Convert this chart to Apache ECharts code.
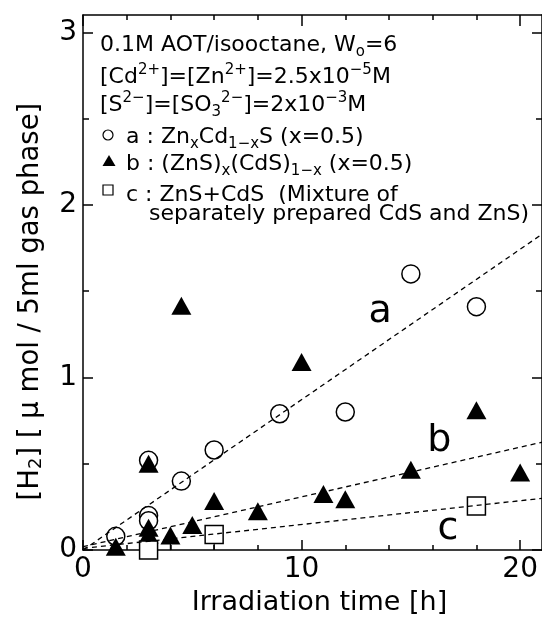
<!DOCTYPE html>
<html>
<head>
<meta charset="utf-8">
<script src="https://cdn.jsdelivr.net/npm/echarts@6/dist/echarts.min.js"></script>
<style>
  html, body { margin: 0; padding: 0; background: #fff; }
  #chart { width: 542px; height: 621px; }
</style>
</head>
<body>
<div id="chart"></div>
<script>
// a : ZnxCd1-xS (open circles)
const seriesA = [[1.5, 0.08], [3, 0.2], [3, 0.17], [3, 0.52], [4.5, 0.4], [6, 0.58], [9, 0.79], [12, 0.8], [15, 1.6], [18, 1.41]];
// b : (ZnS)x(CdS)1-x (filled triangles)
const seriesB = [[1.5, 0.02], [3, 0.13], [3, 0.09], [3, 0.5], [4, 0.085], [4.5, 1.415], [5, 0.145], [6, 0.285], [8, 0.225], [10, 1.09], [11, 0.325], [12, 0.295], [15, 0.465], [18, 0.81], [20, 0.45]];
// c : ZnS+CdS mixture (open squares)
const seriesC = [[3, 0], [6, 0.09], [18, 0.255]];
// dashed fit lines
const fitA = [[0, 0], [21, 1.83]];
const fitB = [[0, 0.02], [21, 0.625]];
const fitC = [[0, 0.01], [21, 0.3]];
// little vertical stems under two points
const stems = [[4, 0.085], [6, 0.06]];
// curve letters
const curveLabels = [['a', 13.6, 1.38], ['b', 16.3, 0.63], ['c', 16.7, 0.12]];

const xMajor = [0, 10, 20];
const xMinor = [2, 4, 6, 8, 12, 14, 16, 18];
const yMajor = [0, 1, 2, 3];
const yMinor = [0.5, 1.5, 2.5];

const FONT = 'DejaVu Sans';
const black = '#000';

function frameAxis(pos, min, max, ticks, len, showLine, labels) {
  return {
    type: 'value', position: pos, min: min, max: max,
    axisLine: { show: showLine, onZero: false, lineStyle: { color: black, width: 1.5 } },
    axisTick: { show: true, inside: true, length: len, customValues: ticks, lineStyle: { color: black, width: 1.5 } },
    axisLabel: labels ? labels : { show: false },
    splitLine: { show: false }
  };
}

const chart = echarts.init(document.getElementById('chart'));

const xBottom = frameAxis('bottom', 0, 21, xMajor, 10, true, {
  customValues: xMajor, fontSize: 28, fontFamily: FONT, color: black, margin: 6
});
xBottom.name = 'Irradiation time [h]';
xBottom.nameLocation = 'middle';
xBottom.nameGap = 38;
xBottom.nameTextStyle = { fontSize: 27, fontFamily: FONT, color: black, padding: [0, 0, 0, 14] };

const yLeft = frameAxis('left', 0, 3.1, yMajor, 10, true, {
  customValues: yMajor, fontSize: 28, fontFamily: FONT, color: black, margin: 6
});
yLeft.name = '[H{sub|2}] [ μ mol / 5ml gas phase]';
yLeft.nameLocation = 'middle';
yLeft.nameGap = 38;
yLeft.nameTextStyle = {
  fontSize: 27.5, fontFamily: FONT, color: black, padding: [0, 0, 0, -38],
  rich: { sub: { fontSize: 18, fontFamily: FONT, color: black, verticalAlign: 'bottom', lineHeight: 16 } }
};

const legendRich = {
  sup: { fontSize: 15, fontFamily: FONT, color: black, verticalAlign: 'top', lineHeight: 13 },
  sub: { fontSize: 15, fontFamily: FONT, color: black, verticalAlign: 'bottom', lineHeight: 13 }
};
function legendLine(x, y, text) {
  return {
    type: 'text', x: x, y: y, z: 10,
    style: {
      text: text, fill: black, fontSize: 22, fontFamily: FONT, lineHeight: 29,
      verticalAlign: 'middle', align: 'left', rich: legendRich
    }
  };
}

chart.setOption({
  animation: false,
  backgroundColor: '#fff',
  grid: { left: 83, right: -2, top: 15, bottom: 70 },
  xAxis: [
    xBottom,
    frameAxis('bottom', 0, 21, xMinor, 5, false),
    frameAxis('top', 0, 21, xMajor, 11, true),
    frameAxis('top', 0, 21, xMinor, 5, false)
  ],
  yAxis: [
    yLeft,
    frameAxis('left', 0, 3.1, yMinor, 6, false),
    frameAxis('right', 0, 3.1, yMajor, 10, true),
    frameAxis('right', 0, 3.1, yMinor, 6, false)
  ],
  graphic: [
    legendLine(100, 45, '0.1M AOT/isooctane, W{sub|o}=6'),
    legendLine(100, 77, '[Cd{sup|2+}]=[Zn{sup|2+}]=2.5x10{sup|−5}M'),
    legendLine(100, 105, '[S{sup|2−}]=[SO{sub|3}{sup|2−}]=2x10{sup|−3}M'),
    legendLine(126, 137, 'a : Zn{sub|x}Cd{sub|1−x}S (x=0.5)'),
    legendLine(126, 164, 'b : (ZnS){sub|x}(CdS){sub|1−x} (x=0.5)'),
    legendLine(126, 195, 'c : ZnS+CdS  (Mixture of'),
    legendLine(149, 214, 'separately prepared CdS and ZnS)'),
    { type: 'circle', z: 10, shape: { cx: 108, cy: 135, r: 5 }, style: { fill: '#fff', stroke: black, lineWidth: 1.2 } },
    { type: 'polygon', z: 10, shape: { points: [[109, 155], [115.5, 166], [102.5, 166]] }, style: { fill: black } },
    { type: 'rect', z: 10, shape: { x: 103, y: 185, width: 10, height: 10 }, style: { fill: '#fff', stroke: black, lineWidth: 1.2 } }
  ],
  series: [
    { type: 'line', data: fitA, symbol: 'none', silent: true, lineStyle: { color: black, width: 1.3, type: [5, 4] } },
    { type: 'line', data: fitB, symbol: 'none', silent: true, lineStyle: { color: black, width: 1.3, type: [5, 4] } },
    { type: 'line', data: fitC, symbol: 'none', silent: true, lineStyle: { color: black, width: 1.3, type: [5, 4] } },
    {
      type: 'custom', silent: true, data: stems,
      renderItem: function (params, api) {
        const top = api.coord([api.value(0), api.value(1)]);
        const bot = api.coord([api.value(0), 0]);
        return { type: 'line', shape: { x1: top[0], y1: top[1], x2: bot[0], y2: bot[1] }, style: { stroke: black, lineWidth: 1.3 } };
      }
    },
    {
      type: 'scatter', data: seriesA, symbol: 'circle', symbolSize: 18,
      itemStyle: { color: '#fff', borderColor: black, borderWidth: 1.5, opacity: 1 }
    },
    {
      type: 'scatter', data: seriesB, symbol: 'triangle', symbolSize: [20, 18],
      itemStyle: { color: black, opacity: 1 }
    },
    {
      type: 'scatter', data: seriesC, symbol: 'rect', symbolSize: 18,
      itemStyle: { color: '#fff', borderColor: black, borderWidth: 1.5, opacity: 1 }
    },
    {
      type: 'scatter', silent: true, symbolSize: 0,
      itemStyle: { opacity: 1 },
      data: curveLabels.map(function (d) { return { name: d[0], value: [d[1], d[2]] }; }),
      label: { show: true, position: 'inside', formatter: '{b}', fontSize: 38, fontFamily: FONT, color: black, opacity: 1 }
    }
  ]
});
</script>
</body>
</html>
